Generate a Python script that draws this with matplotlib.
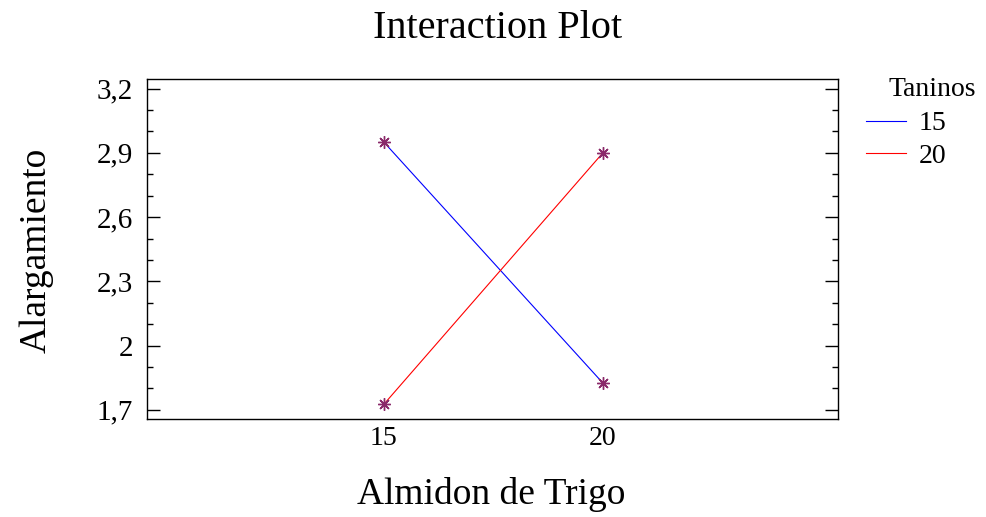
import matplotlib
matplotlib.use("Agg")
import matplotlib.pyplot as plt
from matplotlib.lines import Line2D
from matplotlib.ticker import FixedLocator, MultipleLocator

plt.rcParams['font.family'] = ['Liberation Serif', 'DejaVu Serif']

# Data
almidon_levels = [15, 20]
taninos_labels = ["15", "20"]
alarg_taninos15 = [2.95, 1.825]
alarg_taninos20 = [1.726, 2.90]
series_colors = ["#0000ff", "#ff0000"]
ytick_vals = [1.7, 2.0, 2.3, 2.6, 2.9, 3.2]
ytick_labels = ["1,7", "2", "2,3", "2,6", "2,9", "3,2"]
xtick_labels = ["15", "20"]

W, H = 986, 517
fig = plt.figure(figsize=(W / 100, H / 100), dpi=100)
ax = fig.add_axes([147 / W, 1 - 419 / H, (838 - 147) / W, (419 - 79) / H])

marker = (8, 2, 0)
for vals, col in zip([alarg_taninos15, alarg_taninos20], series_colors):
    ax.plot(almidon_levels, vals, color=col, lw=0.8, zorder=2)
    ax.plot(almidon_levels, vals, linestyle='none', marker=marker, markersize=9,
            markeredgecolor="#8a2a6a", markeredgewidth=1.0, zorder=3)

ax.set_xlim(9.59, 25.37)
ax.set_ylim(1.657, 3.245)

ax.set_xticks(almidon_levels)
ax.set_xticklabels(xtick_labels, fontsize=20)
ax.tick_params(axis='x', length=0, pad=5)

ax.yaxis.set_major_locator(FixedLocator(ytick_vals))
ax.set_yticklabels(ytick_labels, fontsize=21)
ax.yaxis.set_minor_locator(MultipleLocator(0.1))
ax.tick_params(axis='y', which='major', direction='in', length=9.5, width=1.0,
               left=True, right=True, pad=10)
ax.tick_params(axis='y', which='minor', direction='in', length=4.5, width=1.0,
               left=True, right=True)

for s in ax.spines.values():
    s.set_linewidth(1.0)

fig.text(0.5 * (374 + 621) / W, 1 - 28 / H, "Interaction Plot", ha='center', va='center', fontsize=29)
fig.text(0.5 * (355 + 628) / W, 1 - 494 / H, "Almidon de Trigo", ha='center', va='center', fontsize=27)
fig.text(36 / W, 1 - 250 / H, "Alargamiento", ha='center', va='center', fontsize=27, rotation=90)

# legend
handles = [Line2D([], [], color=c, lw=0.8) for c in series_colors]
leg = fig.legend(handles, taninos_labels, loc='upper left',
                 bbox_to_anchor=(866 / W, 1 - 111 / H), frameon=False, fontsize=20,
                 handlelength=1.45, handletextpad=0.45, labelspacing=0.25,
                 borderpad=0, borderaxespad=0)
fig.text(932 / W, 1 - 90 / H, "Taninos", ha='center', va='center', fontsize=20)

fig.savefig("out.png", dpi=100)
